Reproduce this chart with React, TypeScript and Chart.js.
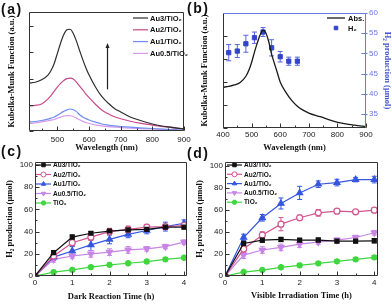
import React, { useEffect, useRef } from "react";
import { Chart, registerables } from "chart.js";
import { drawPoint } from "chart.js/helpers";

Chart.register(...registerables);

const SANS = '"Liberation Sans", Arial, sans-serif';
const SERIF = '"Liberation Serif", "Times New Roman", serif';

// ---------- (a) Kubelka-Munk spectra ----------
const wavelengthA = [410, 430, 450, 470, 480, 490, 500, 510, 520, 530, 540, 550, 560, 570, 580, 590, 600, 620, 640, 660, 680, 700, 730, 760, 800, 850, 900];
const kmAu3 = [0.403, 0.41, 0.43, 0.47, 0.51, 0.57, 0.655, 0.74, 0.81, 0.85, 0.855, 0.82, 0.755, 0.675, 0.6, 0.53, 0.47, 0.37, 0.29, 0.235, 0.19, 0.16, 0.118, 0.09, 0.059, 0.034, 0.017];
const kmAu2 = [0.21, 0.215, 0.227, 0.27, 0.3, 0.336, 0.37, 0.4, 0.425, 0.44, 0.445, 0.437, 0.41, 0.378, 0.345, 0.31, 0.28, 0.225, 0.176, 0.145, 0.12, 0.103, 0.082, 0.066, 0.05, 0.032, 0.017];
const kmAu1 = [0.076, 0.08, 0.088, 0.1, 0.108, 0.118, 0.133, 0.15, 0.165, 0.178, 0.185, 0.178, 0.163, 0.137, 0.118, 0.104, 0.092, 0.074, 0.059, 0.05, 0.043, 0.038, 0.032, 0.027, 0.021, 0.014, 0.008];
const kmAu05 = [0.063, 0.068, 0.076, 0.086, 0.092, 0.097, 0.108, 0.118, 0.125, 0.129, 0.128, 0.122, 0.108, 0.094, 0.081, 0.071, 0.063, 0.051, 0.043, 0.037, 0.033, 0.029, 0.024, 0.02, 0.017, 0.01, 0.004];
const arrowA = { x: 655, from: 0.35, to: 0.74 };
const ticksAX = [500, 600, 700, 800, 900];
const ticksAY = [0, 0.22, 0.44, 0.66, 0.88];

// ---------- (b) Absorption vs H2 action spectrum ----------
const wavelengthB = [400, 420, 440, 460, 480, 490, 500, 510, 520, 530, 540, 550, 560, 570, 580, 590, 600, 620, 640, 660, 680, 700, 740, 780, 820, 860, 900];
const absB = [0.354, 0.362, 0.374, 0.395, 0.45, 0.5, 0.57, 0.66, 0.74, 0.81, 0.85, 0.826, 0.75, 0.64, 0.56, 0.48, 0.4, 0.31, 0.24, 0.19, 0.155, 0.13, 0.098, 0.065, 0.04, 0.025, 0.013];
const h2Wavelength = [420, 450, 480, 510, 540, 570, 600, 630, 660];
const h2Yield = [50.2, 50.6, 52.4, 53.9, 55.3, 51.4, 49.2, 48.1, 48.1];
const h2Err = [2, 1.6, 2.1, 1.4, 1.1, 2, 1.3, 1, 1];
const ticksBX = [400, 500, 600, 700, 800, 900];
const ticksBY = [0, 0.2, 0.4, 0.6, 0.8];
const ticksBY1 = [35, 40, 45, 50, 55, 60];

// ---------- (c) / (d) time courses ----------
const timeH = [0, 0.5, 1, 1.5, 2, 2.5, 3, 3.5, 4];
const labels = ["Au3/TiO\u2082", "Au2/TiO\u2082", "Au1/TiO\u2082", "Au0.5/TiO\u2082", "TiO\u2082"];
const ticksTimeX = [0, 1, 2, 3, 4];
const ticksTimeY = [0, 20, 40, 60, 80, 100];

const darkAu3 = [0, 21, 35, 38.5, 40.5, 41.5, 42, 44, 44];
const darkAu3Err = [0, 2, 2, 1.5, 1.5, 1.5, 1.5, 1.5, 1.5];
const darkAu2 = [0, 18, 30, 35, 40, 42, 44, 44.5, 45.5];
const darkAu2Err = [0, 3, 3, 3, 3, 3, 2.5, 2, 2];
const darkAu1 = [0, 17, 22.5, 28, 33, 37.5, 41, 44.5, 47.5];
const darkAu1Err = [0, 3, 4, 5, 4, 3, 3, 4, 3];
const darkAu05 = [0, 15, 18, 20, 21.5, 23.5, 24.5, 26.5, 30.5];
const darkAu05Err = [0, 2.5, 2, 3, 3, 3, 2, 2, 2];
const darkTiO2 = [0, 3.5, 5.5, 8, 10, 11.5, 13, 15, 16.5];
const darkTiO2Err = [0, 1.5, 1.5, 1.5, 1.5, 1.5, 1.5, 1.5, 1.5];

const visAu3 = [0, 29.6, 32.6, 33.2, 32.6, 32.6, 31.7, 31.7, 32];
const visAu3Err = [0, 2, 2, 2, 1.5, 2, 1.5, 1.5, 2];
const visAu2 = [0, 24.5, 37.2, 47.1, 52.9, 57.4, 58.9, 58.3, 59.8];
const visAu2Err = [0, 3, 3, 6, 2.5, 3, 2, 2, 2];
const visAu1 = [0, 35, 52.9, 65.9, 75.5, 83.4, 84.9, 87.6, 87.6];
const visAu1Err = [0, 3, 3, 5, 6, 3, 3, 2, 3];
const visAu05 = [0, 19, 23.6, 26, 29, 30.8, 32.6, 35, 39.3];
const visAu05Err = [0, 3, 3, 3, 3, 2, 2, 2, 2];
const visTiO2 = [0, 3.6, 5.4, 7.9, 9.7, 11.5, 13.3, 15.1, 16.9];
const visTiO2Err = [0, 1, 1, 1.5, 1.5, 1.5, 1.5, 1.5, 1.5];

// ---------- plugins ----------
const framePlugin = {
  id: "frame",
  afterDraw(chart: any, _a: any, o: any) {
    const { ctx, chartArea: a } = chart;
    const c = o.colors || {};
    const L = Math.round(a.left) + 0.5, R = Math.round(a.right) - 0.5;
    const T = Math.round(a.top) + 0.5, B = Math.round(a.bottom) - 0.5;
    ctx.save();
    ctx.lineWidth = 1;
    const line = (x1: number, y1: number, x2: number, y2: number, col: string) => {
      ctx.strokeStyle = col;
      ctx.beginPath();
      ctx.moveTo(x1, y1);
      ctx.lineTo(x2, y2);
      ctx.stroke();
    };
    line(L, T, R, T, c.top || "#333");
    line(R, T, R, B, c.right || "#333");
    line(L, B, R, B, c.bottom || "#333");
    line(L, T, L, B, c.left || "#333");
    const tc = o.tickColors || {};
    const minor = o.minor || {};
    Object.keys(chart.scales).forEach((id) => {
      const s = chart.scales[id];
      const col = tc[id] || "#333";
      const draw = (v: number, len: number) => {
        const p = Math.round(s.getPixelForValue(v)) + 0.5;
        if (s.isHorizontal()) line(p, B, p, B - len, col);
        else if (s.position === "left") line(L, p, L + len, p, col);
        else line(R + 2, p, R - len, p, col);
      };
      s.ticks.forEach((t: any) => draw(t.value, 4));
      const st = minor[id];
      if (st) {
        for (let v = Math.ceil(s.min / st) * st; v <= s.max + 1e-9; v += st) draw(v, 2);
      }
    });
    ctx.restore();
  },
};

const errorBarPlugin = {
  id: "errorBars",
  beforeDatasetsDraw(chart: any) {
    const { ctx } = chart;
    chart.data.datasets.forEach((ds: any, i: number) => {
      if (!ds.errors) return;
      const meta = chart.getDatasetMeta(i);
      const ys = chart.scales[meta.yAxisID];
      ctx.save();
      ctx.strokeStyle = ds.errorColor || ds.borderColor;
      ctx.lineWidth = 1;
      meta.data.forEach((el: any, j: number) => {
        const e = ds.errors[j];
        if (!e) return;
        const v = ds.data[j].y;
        const y1 = ys.getPixelForValue(v + e);
        const y2 = ys.getPixelForValue(v - e);
        ctx.beginPath();
        ctx.moveTo(el.x, y1);
        ctx.lineTo(el.x, y2);
        ctx.moveTo(el.x - 2.5, y1);
        ctx.lineTo(el.x + 2.5, y1);
        ctx.moveTo(el.x - 2.5, y2);
        ctx.lineTo(el.x + 2.5, y2);
        ctx.stroke();
      });
      ctx.restore();
    });
  },
};

const inLegendPlugin = {
  id: "inLegend",
  afterDraw(chart: any, _a: any, o: any) {
    const { ctx, chartArea: a } = chart;
    ctx.save();
    ctx.font = o.font;
    ctx.textBaseline = "middle";
    chart.data.datasets.forEach((ds: any, i: number) => {
      const y = a.top + o.y + i * o.rowH;
      const x0 = a.left + o.x;
      if (ds.showLine !== false) {
        ctx.strokeStyle = ds.borderColor;
        ctx.lineWidth = ds.borderWidth || 1;
        ctx.beginPath();
        ctx.moveTo(x0, y);
        ctx.lineTo(x0 + o.lineLen, y);
        ctx.stroke();
      }
      if (ds.pointRadius > 0) {
        ctx.fillStyle = ds.pointBackgroundColor;
        ctx.strokeStyle = ds.pointBorderColor || ds.borderColor;
        ctx.lineWidth = ds.pointBorderWidth || 1;
        drawPoint(
          ctx,
          {
            pointStyle: ds.pointStyle,
            rotation: ds.pointRotation || 0,
            radius: o.markerR || ds.pointRadius,
            borderWidth: ds.pointBorderWidth || 1,
          } as any,
          x0 + o.lineLen / 2,
          y
        );
      }
      ctx.fillStyle = o.color || "#111";
      ctx.fillText(ds.label, x0 + o.lineLen + o.gap, y + 0.5);
    });
    ctx.restore();
  },
};

const arrowPlugin = {
  id: "arrow",
  afterDatasetsDraw(chart: any, _a: any, o: any) {
    const { ctx } = chart;
    const x = Math.round(chart.scales.x.getPixelForValue(o.x)) + 0.5;
    const yb = chart.scales.y.getPixelForValue(o.from);
    const yt = chart.scales.y.getPixelForValue(o.to);
    ctx.save();
    ctx.strokeStyle = "#222";
    ctx.fillStyle = "#222";
    ctx.lineWidth = 1.2;
    ctx.beginPath();
    ctx.moveTo(x, yb);
    ctx.lineTo(x, yt + 4);
    ctx.stroke();
    ctx.beginPath();
    ctx.moveTo(x, yt);
    ctx.lineTo(x - 2, yt + 5);
    ctx.lineTo(x + 2, yt + 5);
    ctx.closePath();
    ctx.fill();
    ctx.restore();
  },
};

// ---------- shared option helpers ----------
const tickFont = { family: SANS, size: 8 };
const titleFontBase = { family: SERIF, size: 8.5, weight: "bold" as const };
const noGrid = { display: false, drawTicks: false };
const noBorder = { display: false };
const fixedTicks = (values: number[]) => (s: any) => {
  s.ticks = values.map((value) => ({ value }));
};

const xTitle = (text: string, padBottom: number) => ({
  display: true,
  text,
  font: titleFontBase,
  color: "#111",
  padding: { top: 0, bottom: padBottom },
});
const yTitle = (text: string, padTop: number, color = "#111", lineHeight = 1.2) => ({
  display: true,
  text,
  font: { ...titleFontBase, lineHeight },
  color,
  padding: { top: padTop, bottom: 0 },
});

const basePlugins = { legend: { display: false }, tooltip: { enabled: false } };

function makeA() {
  const mk = (label: string, ys: number[], color: string) => ({
    label,
    data: wavelengthA.map((x, i) => ({ x, y: ys[i] })),
    borderColor: color,
    borderWidth: 1.2,
    pointRadius: 0,
    cubicInterpolationMode: "monotone",
    fill: false,
  });
  return {
    type: "line",
    data: {
      datasets: [
        mk(labels[0], kmAu3, "#2e2e2e"),
        mk(labels[1], kmAu2, "#c8488c"),
        mk(labels[2], kmAu1, "#6f8ef0"),
        mk(labels[3], kmAu05, "#d79be9"),
      ],
    },
    options: {
      responsive: false,
      animation: false,
      devicePixelRatio: 1,
      layout: { padding: { top: 12, right: 12, left: 0, bottom: 0 } },
      plugins: {
        ...basePlugins,
        frame: { minor: { x: 50 } },
        inLegend: { x: 104, y: 6, rowH: 11.8, lineLen: 15, gap: 2, font: `bold 7.5px ${SANS}` },
        arrow: arrowA,
      },
      scales: {
        x: {
          type: "linear",
          min: 410,
          max: 900,
          afterBuildTicks: fixedTicks(ticksAX),
          ticks: { padding: 4, font: tickFont, color: "#222", maxRotation: 0, autoSkip: false },
          grid: noGrid,
          border: noBorder,
          title: xTitle("Wavelength (nm)", 2.9),
          afterFit: (s: any) => { s.height = 25; },
        },
        y: {
          type: "linear",
          min: 0,
          max: 1,
          afterBuildTicks: fixedTicks(ticksAY),
          ticks: { display: false },
          grid: noGrid,
          border: noBorder,
          title: yTitle("Kubelka-Munk Function (a.u.)", 6.9),
          afterFit: (s: any) => { s.width = 29; },
        },
      },
    },
    plugins: [framePlugin, inLegendPlugin, arrowPlugin],
  };
}

function makeB() {
  const blue = "#3344cc";
  const axisBlue = "#6a78e0";
  return {
    type: "line",
    data: {
      datasets: [
        {
          label: "Abs.",
          data: wavelengthB.map((x, i) => ({ x, y: absB[i] })),
          borderColor: "#1a1a1a",
          borderWidth: 1.3,
          pointRadius: 0,
          cubicInterpolationMode: "monotone",
          yAxisID: "y",
        },
        {
          label: "H\u2082",
          data: h2Wavelength.map((x, i) => ({ x, y: h2Yield[i] })),
          errors: h2Err,
          errorColor: "#5566dd",
          showLine: false,
          borderColor: blue,
          pointStyle: "rect",
          pointRadius: 3,
          pointBackgroundColor: blue,
          pointBorderColor: blue,
          yAxisID: "y1",
        },
      ],
    },
    options: {
      responsive: false,
      animation: false,
      devicePixelRatio: 1,
      layout: { padding: { top: 13, right: 0, left: 0, bottom: 0 } },
      plugins: {
        ...basePlugins,
        frame: {
          colors: { top: axisBlue, right: axisBlue },
          tickColors: { y1: axisBlue },
          minor: { x: 50 },
        },
        inLegend: { x: 104, y: 5, rowH: 10, lineLen: 18, gap: 3, markerR: 2.5, font: `bold 7.5px ${SANS}` },
      },
      scales: {
        x: {
          type: "linear",
          min: 400,
          max: 900,
          afterBuildTicks: fixedTicks(ticksBX),
          ticks: { padding: 2, font: tickFont, color: "#222", maxRotation: 0, autoSkip: false },
          grid: noGrid,
          border: noBorder,
          title: xTitle("Wavelength (nm)", 2.9),
          afterFit: (s: any) => { s.height = 28; },
        },
        y: {
          type: "linear",
          position: "left",
          min: 0,
          max: 1,
          afterBuildTicks: fixedTicks(ticksBY),
          ticks: { display: false },
          grid: noGrid,
          border: noBorder,
          title: yTitle("Kubelka-Munk Function (a.u.)", 9.9),
          afterFit: (s: any) => { s.width = 33; },
        },
        y1: {
          type: "linear",
          position: "right",
          min: 31.6,
          max: 60,
          afterBuildTicks: fixedTicks(ticksBY1),
          ticks: { padding: 3, font: tickFont, color: axisBlue, autoSkip: false },
          grid: noGrid,
          border: noBorder,
          title: yTitle("H\u2082 production (\u03bcmol)", 0.8, "#4455cc", 1),
          afterFit: (s: any) => { s.width = 26; },
        },
      },
    },
    plugins: [errorBarPlugin, framePlugin, inLegendPlugin],
  };
}

const seriesStyles: any[] = [
  { borderColor: "#111111", pointStyle: "rect", pointBackgroundColor: "#111111", pointBorderColor: "#111111", pointRadius: 2.8 },
  { borderColor: "#d2558f", pointStyle: "circle", pointBackgroundColor: "#ffffff", pointBorderColor: "#d2558f", pointRadius: 3 },
  { borderColor: "#3656e0", pointStyle: "triangle", pointBackgroundColor: "#3656e0", pointBorderColor: "#3656e0", pointRadius: 3.5 },
  { borderColor: "#c785e6", pointStyle: "triangle", pointRotation: 180, pointBackgroundColor: "#c785e6", pointBorderColor: "#c785e6", pointRadius: 3.5 },
  { borderColor: "#3fd63f", pointStyle: "star", pointBackgroundColor: "#3fd63f", pointBorderColor: "#3fd63f", pointRadius: 3.2, pointBorderWidth: 2 },
];

function makeTime(
  series: number[][],
  errs: number[][],
  xText: string,
  o: { xMax: number; yMax: number; padRight: number; titlePadB: number; legendX: number; rowH: number }
) {
  return {
    type: "line",
    data: {
      datasets: series.map((ys, k) => ({
        label: labels[k],
        data: timeH.map((x, i) => ({ x, y: ys[i] })),
        errors: errs[k],
        borderWidth: 1.2,
        ...seriesStyles[k],
      })),
    },
    options: {
      responsive: false,
      animation: false,
      devicePixelRatio: 1,
      layout: { padding: { top: 10, right: o.padRight, left: 0, bottom: 0 } },
      plugins: {
        ...basePlugins,
        frame: { minor: { x: 0.5, y: 10 } },
        inLegend: { x: o.legendX, y: 3, rowH: o.rowH, lineLen: 15, gap: 2, markerR: 2.5, font: `bold 6.5px ${SANS}` },
      },
      scales: {
        x: {
          type: "linear",
          min: 0,
          max: o.xMax,
          afterBuildTicks: fixedTicks(ticksTimeX),
          ticks: { padding: 2, font: tickFont, color: "#222", maxRotation: 0, autoSkip: false },
          grid: noGrid,
          border: noBorder,
          title: xTitle(xText, o.titlePadB),
          afterFit: (s: any) => { s.height = 28; },
        },
        y: {
          type: "linear",
          min: 0,
          max: o.yMax,
          afterBuildTicks: fixedTicks(ticksTimeY),
          ticks: { padding: 2, font: tickFont, color: "#222", autoSkip: false },
          grid: noGrid,
          border: noBorder,
          title: yTitle("H\u2082 production (\u03bcmol)", 4.9),
          afterFit: (s: any) => { s.width = 35; },
        },
      },
    },
    plugins: [errorBarPlugin, framePlugin, inLegendPlugin],
  };
}

const makeC = () =>
  makeTime(
    [darkAu3, darkAu2, darkAu1, darkAu05, darkTiO2],
    [darkAu3Err, darkAu2Err, darkAu1Err, darkAu05Err, darkTiO2Err],
    "Dark Reaction Time (h)",
    { xMax: 4.08, yMax: 102.7, padRight: 9, titlePadB: 1.9, legendX: 1, rowH: 9.5 }
  );

const makeD = () =>
  makeTime(
    [visAu3, visAu2, visAu1, visAu05, visTiO2],
    [visAu3Err, visAu2Err, visAu1Err, visAu05Err, visTiO2Err],
    "Visible Irradiation Time (h)",
    { xMax: 4.1, yMax: 103.6, padRight: 14, titlePadB: 2.9, legendX: 2, rowH: 9.3 }
  );

type Box = { left: number; top: number; width: number; height: number };

function ChartPanel({ box, make }: { box: Box; make: () => any }) {
  const ref = useRef<HTMLCanvasElement>(null);
  useEffect(() => {
    const chart = new Chart(ref.current as HTMLCanvasElement, make());
    return () => chart.destroy();
  }, []);
  return (
    <div style={{ position: "absolute", left: box.left, top: box.top, width: box.width, height: box.height }}>
      <canvas
        ref={ref}
        width={box.width}
        height={box.height}
        style={{ width: box.width, height: box.height, display: "block" }}
      />
    </div>
  );
}

const panelLabel = (text: string, left: number, top: number) => (
  <div
    style={{
      position: "absolute",
      left,
      top,
      font: `bold 14px ${SANS}`,
      lineHeight: "14px",
      letterSpacing: "1.5px",
      color: "#111",
    }}
  >
    {text}
  </div>
);

export default function App() {
  return (
    <div style={{ position: "absolute", left: 0, top: 0, width: 392, height: 304, background: "#fff", overflow: "hidden" }}>
      <ChartPanel box={{ left: 0, top: 0, width: 196, height: 156 }} make={makeA} />
      <ChartPanel box={{ left: 190, top: 0, width: 202, height: 156 }} make={makeB} />
      <ChartPanel box={{ left: 0, top: 152, width: 196, height: 152 }} make={makeC} />
      <ChartPanel box={{ left: 190, top: 152, width: 202, height: 152 }} make={makeD} />
      {panelLabel("(a)", 1, 2)}
      {panelLabel("(b)", 187, 1)}
      {panelLabel("(c)", 1, 144)}
      {panelLabel("(d)", 187, 146)}
    </div>
  );
}
